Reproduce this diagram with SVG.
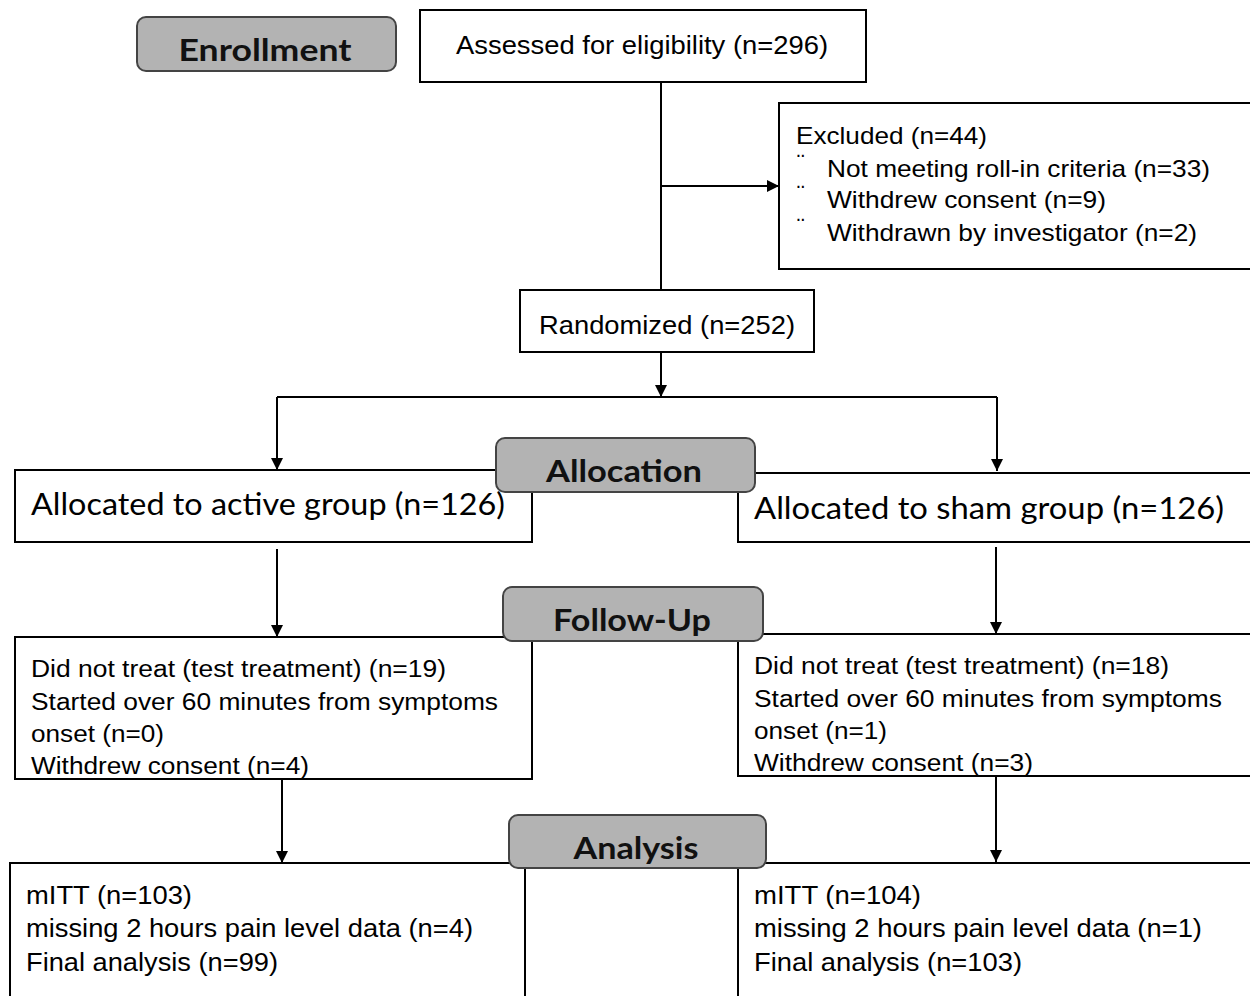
<svg xmlns="http://www.w3.org/2000/svg" width="1250" height="996" viewBox="0 0 1250 996">
<defs>
<marker id="ah" markerWidth="12" markerHeight="14" refX="12" refY="6" orient="auto" markerUnits="userSpaceOnUse">
<path d="M0,0 L12,6 L0,12 Z" fill="#000"/>
</marker>
<style>
.box{fill:#fff;stroke:#000;stroke-width:2}
.hdr{fill:#b3b3b3;stroke:#444;stroke-width:2}
.ht{font-family:Lato,"Open Sans",sans-serif;font-weight:bold;font-size:30px;fill:#111;text-anchor:middle}
.nt{font-family:"Liberation Sans",Arial,sans-serif;font-size:25px;fill:#000}
.st{font-family:"Liberation Sans",Arial,sans-serif;font-size:23px;fill:#000}
.ex{font-family:"Liberation Sans",Arial,sans-serif;font-size:24px;fill:#000}
.al{font-family:Lato,"Open Sans",sans-serif;font-size:31px;fill:#000}
.ln{stroke:#000;stroke-width:2;fill:none}
</style>
</defs>
<rect width="1250" height="996" fill="#fff"/>
<g id="connectors">
<line class="ln" x1="661" y1="82" x2="661" y2="290"/>
<line class="ln" x1="661" y1="186" x2="779" y2="186" marker-end="url(#ah)"/>
<line class="ln" x1="661" y1="352" x2="661" y2="397" marker-end="url(#ah)"/>
<line class="ln" x1="277" y1="397" x2="997" y2="397"/>
<line class="ln" x1="277" y1="397" x2="277" y2="470" marker-end="url(#ah)"/>
<line class="ln" x1="997" y1="397" x2="997" y2="471" marker-end="url(#ah)"/>
<line class="ln" x1="277" y1="549" x2="277" y2="637" marker-end="url(#ah)"/>
<line class="ln" x1="996" y1="547" x2="996" y2="634" marker-end="url(#ah)"/>
<line class="ln" x1="282" y1="779" x2="282" y2="863" marker-end="url(#ah)"/>
<line class="ln" x1="996" y1="776" x2="996" y2="862" marker-end="url(#ah)"/>
</g>
<g id="assessed">
<rect class="box" x="420" y="10" width="446" height="72"/>
<text class="nt" x="456" y="54" textLength="372" lengthAdjust="spacingAndGlyphs">Assessed for eligibility (n=296)</text>
</g>
<g id="excluded">
<rect class="box" x="779" y="103" width="480" height="166"/>
<text class="ex" x="796" y="144" textLength="191" lengthAdjust="spacingAndGlyphs">Excluded  (n=44)</text>
<text class="st" x="797" y="171">¨</text>
<text class="ex" x="827" y="177" textLength="383" lengthAdjust="spacingAndGlyphs">Not meeting roll-in criteria (n=33)</text>
<text class="st" x="797" y="202">¨</text>
<text class="ex" x="827" y="208" textLength="279" lengthAdjust="spacingAndGlyphs">Withdrew consent (n=9)</text>
<text class="st" x="797" y="235">¨</text>
<text class="ex" x="827" y="241" textLength="370" lengthAdjust="spacingAndGlyphs">Withdrawn by investigator  (n=2)</text>
</g>
<g id="randomized">
<rect class="box" x="520" y="290" width="294" height="62"/>
<text class="nt" x="539" y="334" textLength="256" lengthAdjust="spacingAndGlyphs">Randomized (n=252)</text>
</g>
<g id="active">
<rect class="box" x="15" y="470" width="517" height="72"/>
<text class="al" x="31" y="515" textLength="474" lengthAdjust="spacingAndGlyphs">Allocated to active group (n=126)</text>
</g>
<g id="sham">
<rect class="box" x="738" y="473" width="520" height="69"/>
<text class="al" x="754" y="519" textLength="470" lengthAdjust="spacingAndGlyphs">Allocated to sham group (n=126)</text>
</g>
<g id="followup-active">
<rect class="box" x="15" y="637" width="517" height="142"/>
<text class="st" x="31" y="677" textLength="415" lengthAdjust="spacingAndGlyphs">Did not treat (test treatment)  (n=19)</text>
<text class="st" x="31" y="710" textLength="467" lengthAdjust="spacingAndGlyphs">Started  over  60  minutes  from  symptoms</text>
<text class="st" x="31" y="742" textLength="133" lengthAdjust="spacingAndGlyphs">onset  (n=0)</text>
<text class="st" x="31" y="774" textLength="278" lengthAdjust="spacingAndGlyphs">Withdrew  consent  (n=4)</text>
</g>
<g id="followup-sham">
<rect class="box" x="738" y="634" width="520" height="142"/>
<text class="st" x="754" y="674" textLength="415" lengthAdjust="spacingAndGlyphs">Did not treat (test treatment)  (n=18)</text>
<text class="st" x="754" y="707" textLength="468" lengthAdjust="spacingAndGlyphs">Started  over  60  minutes  from  symptoms</text>
<text class="st" x="754" y="739" textLength="133" lengthAdjust="spacingAndGlyphs">onset  (n=1)</text>
<text class="st" x="754" y="771" textLength="279" lengthAdjust="spacingAndGlyphs">Withdrew  consent  (n=3)</text>
</g>
<g id="analysis-active">
<rect class="box" x="10" y="863" width="515" height="150"/>
<text class="nt" x="26" y="904" textLength="166" lengthAdjust="spacingAndGlyphs">mITT  (n=103)</text>
<text class="nt" x="26" y="937" textLength="447" lengthAdjust="spacingAndGlyphs">missing 2 hours pain level data (n=4)</text>
<text class="nt" x="26" y="971" textLength="252" lengthAdjust="spacingAndGlyphs">Final analysis (n=99)</text>
</g>
<g id="analysis-sham">
<rect class="box" x="738" y="863" width="520" height="150"/>
<text class="nt" x="754" y="904" textLength="167" lengthAdjust="spacingAndGlyphs">mITT  (n=104)</text>
<text class="nt" x="754" y="937" textLength="448" lengthAdjust="spacingAndGlyphs">missing 2 hours pain level data (n=1)</text>
<text class="nt" x="754" y="971" textLength="268" lengthAdjust="spacingAndGlyphs">Final analysis (n=103)</text>
</g>
<g id="analysis-line">
<line class="ln" x1="525" y1="863" x2="738" y2="863"/>
</g>
<g id="enrollment">
<rect class="hdr" x="137" y="17" width="259" height="54" rx="9"/>
<text class="ht" x="265" y="61" textLength="173" lengthAdjust="spacingAndGlyphs">Enrollment</text>
</g>
<g id="allocation">
<rect class="hdr" x="496" y="438" width="259" height="54" rx="9"/>
<text class="ht" x="624" y="482" textLength="156" lengthAdjust="spacingAndGlyphs">Allocation</text>
</g>
<g id="followup">
<rect class="hdr" x="503" y="587" width="260" height="54" rx="9"/>
<text class="ht" x="632" y="631" textLength="158" lengthAdjust="spacingAndGlyphs">Follow-Up</text>
</g>
<g id="analysis">
<rect class="hdr" x="509" y="815" width="257" height="53" rx="9"/>
<text class="ht" x="636" y="859" textLength="125" lengthAdjust="spacingAndGlyphs">Analysis</text>
</g>
</svg>
